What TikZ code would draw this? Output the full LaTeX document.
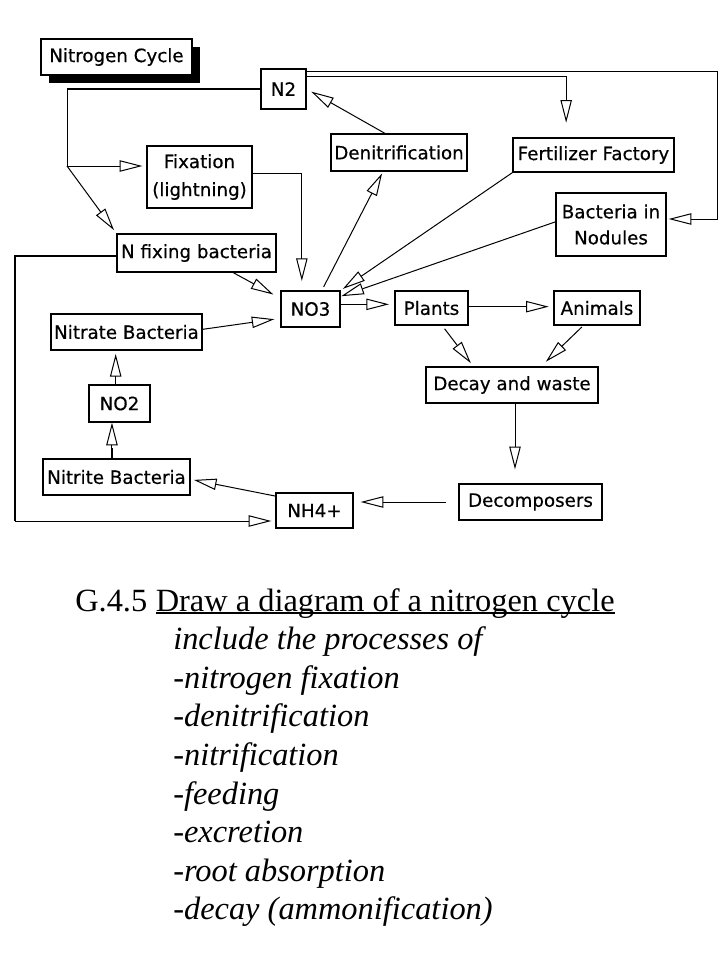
\documentclass[tikz,border=0pt]{standalone}
\usepackage{fontspec}
\setmainfont{Liberation Serif}
\newfontfamily\boxfont[FakeBold=0.5]{DejaVu Sans}
\usetikzlibrary{arrows.meta, shadows}

\begin{document}
\begin{tikzpicture}[
  x=0.75pt, y=-0.75pt,
  >={Triangle[open, length=17pt, width=8.5pt]},
  box/.style={
    rectangle, draw=black, line width=0.9pt,
    fill=white, inner sep=0pt,
    font=\boxfont\fontsize{13.7}{20}\selectfont,
    align=center
  },
  dims/.style 2 args={minimum width=#1*0.75pt, minimum height=#2*0.75pt},
  arrow/.style={->, line width=0.75pt},
  heavy/.style={line width=1.6pt},
  task/.style={anchor=base west, inner sep=0pt, font=\fontsize{24.3}{29}\selectfont}
]
\useasboundingbox (0,0) rectangle (728,971);

% Boxes
\node[box, dims={151}{36},
  drop shadow={shadow xshift=6pt, shadow yshift=-6pt, fill=black, opacity=1}]
  (title) at (116.5,57) {Nitrogen Cycle};
\node[box, dims={45}{40}] (N2) at (283.5,89) {N2};
\node[box, dims={105}{62}, font=\boxfont\fontsize{13.7}{21}\selectfont]
  (Fixation) at (199.5,177) {Fixation\\(lightning)};
\node[box, dims={136}{37}] (Denit) at (399,152.5) {Denitrification};
\node[box, dims={161}{34}] (Fert) at (593.5,155) {Fertilizer Factory};
\node[box, dims={110}{63}, font=\boxfont\fontsize{13.7}{19.5}\selectfont]
  (Nodules) at (611,224.5) {Bacteria in\\Nodules};
\node[box, dims={159}{38}] (Nfix) at (196.5,253) {N fixing bacteria};
\node[box, dims={59}{36}] (NO3) at (310.5,309) {NO3};
\node[box, dims={73}{34}] (Plants) at (431.5,308) {Plants};
\node[box, dims={86}{34}] (Animals) at (597,308) {Animals};
\node[box, dims={151}{36}] (Nitrate) at (126.5,332) {Nitrate Bacteria};
\node[box, dims={172}{36}] (Decay) at (512,385) {Decay and waste};
\node[box, dims={61}{37}] (NO2) at (119.5,403.5) {NO2};
\node[box, dims={147}{36}] (Nitrite) at (116.5,477) {Nitrite Bacteria};
\node[box, dims={77}{35}] (NH4) at (314.5,510.5) {NH4+};
\node[box, dims={143}{36}] (Decomp) at (530.5,502) {Decomposers};

% Corners of the long connectors
\coordinate (split) at (67,166);
\coordinate (rimR) at (717,219);
\coordinate (rimL) at (15,521);

% Arrows
\draw[heavy] (N2.west) -- (N2.west -| split);
\draw[line width=0.75pt] (N2.west -| split) -- (split);
\draw[arrow, shorten >=3pt] (split) -- (split -| Fixation.west);
\draw[arrow, shorten >=3pt] (split) -- (Nfix.north west);
\draw[arrow, shorten >=7pt] ([yshift=3pt]Fixation.east) -| ([xshift=-6.5pt]NO3.north);
\draw[arrow, shorten <=3pt, shorten >=1.5pt] ([xshift=8.5pt]NO3.north) -- ([xshift=-12pt]Denit.south);
\draw[arrow, shorten >=4pt] ([xshift=-10.5pt]Denit.north) -- (N2.east);
\draw[arrow, shorten >=11pt] ([yshift=-6pt]N2.north east) -| ([xshift=-20.5pt]Fert.north);
\draw[arrow, shorten >=1.5pt] ([yshift=-2pt]N2.north east) -| (rimR) -- (rimR -| Nodules.east);
\draw[arrow, shorten >=2pt] (Fert.south west) -- (NO3.north east);
\draw[arrow, shorten >=0.5pt] ([yshift=2pt]Nodules.west) -- ([yshift=-4.5pt]NO3.north east);
\draw[arrow, shorten >=6pt] ([xshift=27.5pt]Nfix.south) -- ([yshift=8pt]NO3.west);
\draw[arrow, shorten >=4.5pt] ([yshift=2pt]Nitrate.east) -- ([yshift=-7pt]NO3.west);
\draw[arrow, shorten >=4pt] ([yshift=3.5pt]NO3.east) -- ([yshift=3.5pt]NO3.east -| Plants.west);
\draw[arrow, shorten >=3.5pt] ([yshift=1pt]Plants.east) -- ([yshift=1pt]Plants.east -| Animals.west);
\draw[arrow, shorten <=3pt, shorten >=3pt] ([xshift=8pt]Plants.south) -- ([xshift=-29pt]Decay.north);
\draw[arrow, shorten <=1.5pt, shorten >=5pt] ([xshift=-10.3pt]Animals.south) -- ([xshift=21.75pt]Decay.north);
\draw[arrow, shorten >=10.5pt] ([xshift=2.25pt]Decay.south) -- ([xshift=2.25pt]Decay.south |- Decomp.north);
\draw[arrow, shorten <=9pt, shorten >=5.25pt] (Decomp.west) -- (Decomp.west -| NH4.east);
\draw[arrow, shorten >=2.5pt] ([yshift=-2.75pt]NH4.north west) -- ([yshift=-1.7pt]Nitrite.east);
\draw[heavy] ([xshift=-3.4pt]Nitrite.north) -- ++(0,-10);
\draw[arrow] ([xshift=-3.4pt]Nitrite.north) -- ([xshift=-3.4pt]Nitrite.north |- NO2.south);
\draw[arrow, shorten >=2.5pt] ([xshift=-2.85pt]NO2.north) -- ([xshift=-2.85pt]NO2.north |- Nitrate.south);
\draw[heavy] ([yshift=-2.5pt]Nfix.west) -| (rimL);
\draw[arrow, shorten >=3pt] (rimL) -- (rimL -| NH4.west);

% Task text
\node[task] (code) at (75,611) {G.4.5};
\node[task] (goal) at ([xshift=6pt]code.base east) {Draw a diagram of a nitrogen cycle};
\draw[line width=1.2pt] ([yshift=-1.5pt]goal.base west) -- ([yshift=-1.5pt]goal.base east);
\foreach \txt [count=\i] in {include the processes of, -nitrogen fixation,
    -denitrification, -nitrification, -feeding, -excretion,
    -root absorption, -decay (ammonification)}
  \node[task, font=\itshape\fontsize{24.3}{29}\selectfont] (item\i)
    at (173, {611+38.6*\i}) {\txt};

\end{tikzpicture}
\end{document}
